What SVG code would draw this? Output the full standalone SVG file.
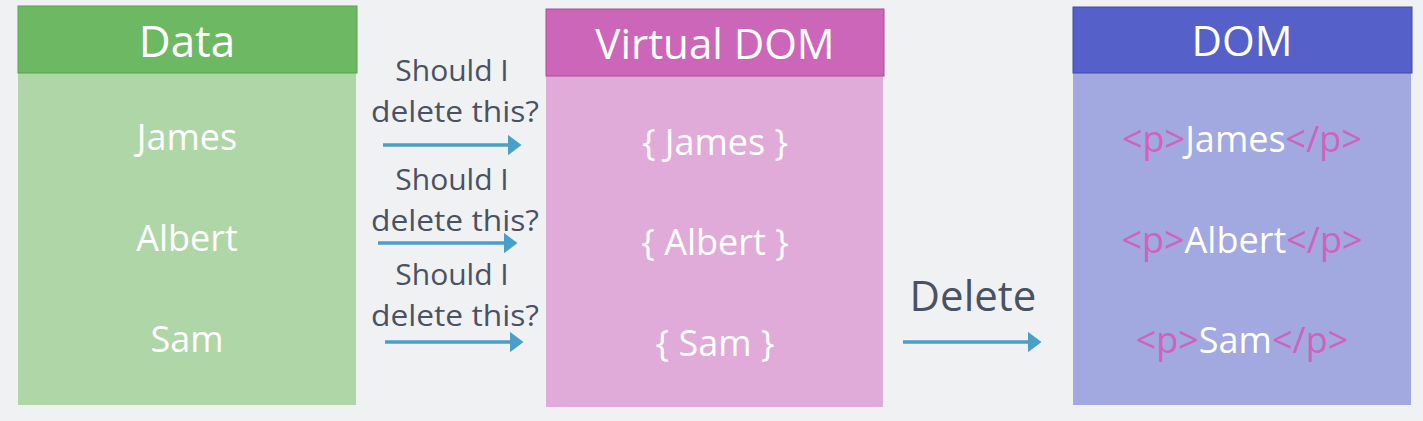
<svg xmlns="http://www.w3.org/2000/svg" width="1423" height="421" viewBox="0 0 1423 421">
<defs>
<style>
text{font-family:"Open Sans","Liberation Sans",sans-serif;text-anchor:middle}
.hd{font-size:44px;fill:#ffffff}
.hd2{font-size:42px;fill:#ffffff}
.it{font-size:36px;fill:#ffffff}
.lb{font-size:30px;fill:#4a5262}
.big{font-size:42px;fill:#4a5262}
.tag{fill:#d062bb}
.ar{stroke:#4a9fc9;stroke-width:3.5;fill:none;marker-end:url(#ah)}
</style>
<marker id="ah" markerWidth="6" markerHeight="6" refX="1" refY="3" orient="auto" markerUnits="strokeWidth">
<path d="M0,0 L4,3 L0,6 Z" fill="#4a9fc9"/>
</marker>
</defs>
<rect width="1423" height="421" fill="#f0f1f3"/>
<g id="data">
<rect x="18" y="73" width="338" height="332" fill="#aed6a7"/>
<rect x="18" y="6" width="339" height="67" fill="#6db862" stroke="#5a9f50" stroke-width="1"/>
<text class="hd" x="187" y="57">Data</text>
<text class="it" x="187" y="150">James</text>
<text class="it" x="187" y="251">Albert</text>
<text class="it" x="187" y="352">Sam</text>
</g>
<g id="vdom">
<rect x="546" y="76" width="337" height="331" fill="#e0abd9"/>
<rect x="546" y="9" width="338" height="67" fill="#cc66b8" stroke="#a84d96" stroke-width="1"/>
<text class="hd2" x="715" y="59">Virtual DOM</text>
<text class="it" x="715" y="155">{ James }</text>
<text class="it" x="715" y="255">{ Albert }</text>
<text class="it" x="715" y="356">{ Sam }</text>
</g>
<g id="dom">
<rect x="1073" y="73" width="338" height="332" fill="#a2a8e0"/>
<rect x="1073" y="7" width="339" height="66" fill="#5560c8" stroke="#3f4aa8" stroke-width="1"/>
<text class="hd2" x="1242" y="56">DOM</text>
<text class="it" x="1242" y="152"><tspan class="tag">&lt;p&gt;</tspan>James<tspan class="tag">&lt;/p&gt;</tspan></text>
<text class="it" x="1242" y="253"><tspan class="tag">&lt;p&gt;</tspan>Albert<tspan class="tag">&lt;/p&gt;</tspan></text>
<text class="it" x="1242" y="353"><tspan class="tag">&lt;p&gt;</tspan>Sam<tspan class="tag">&lt;/p&gt;</tspan></text>
</g>
<g id="connectors">
<line class="ar" x1="383" y1="145" x2="511" y2="145"/>
<line class="ar" x1="378" y1="243" x2="507" y2="243"/>
<line class="ar" x1="385" y1="342" x2="513" y2="342"/>
<line class="ar" x1="903" y1="342" x2="1031" y2="342"/>
<text class="lb" x="452" y="81">Should I</text>
<text class="lb" x="455" y="122" textLength="168" lengthAdjust="spacingAndGlyphs">delete this?</text>
<text class="lb" x="452" y="190">Should I</text>
<text class="lb" x="455" y="231" textLength="168" lengthAdjust="spacingAndGlyphs">delete this?</text>
<text class="lb" x="452" y="285">Should I</text>
<text class="lb" x="455" y="326" textLength="168" lengthAdjust="spacingAndGlyphs">delete this?</text>
<text class="big" x="973" y="311">Delete</text>
</g>
</svg>
